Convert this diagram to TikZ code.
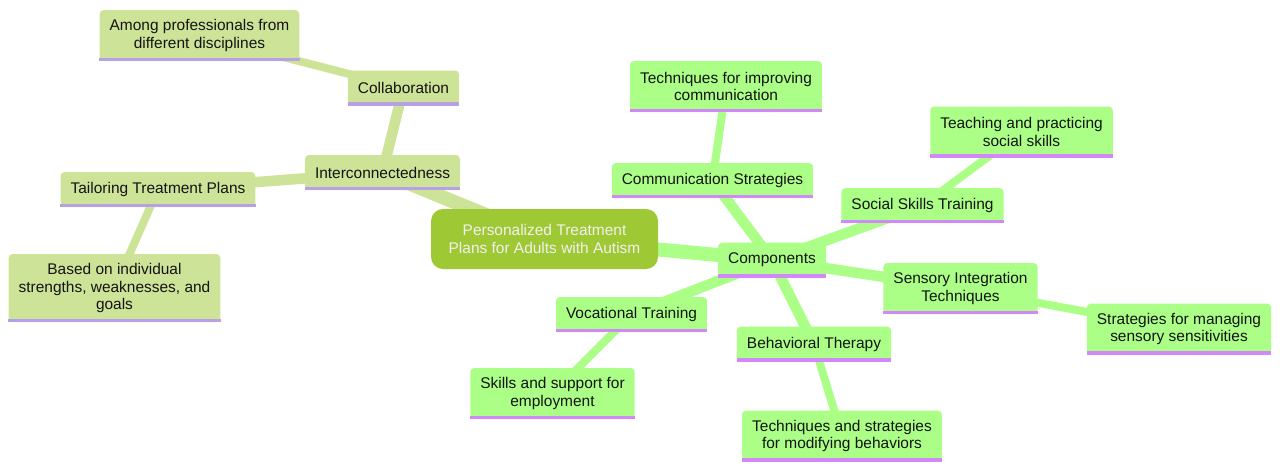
\documentclass[tikz,border=0pt]{standalone}
\usepackage{fontspec}
\setmainfont{Liberation Sans}
\usepackage{tikz}
\usetikzlibrary{backgrounds}
\definecolor{rootgreen}{RGB}{158, 201, 52}
\definecolor{leftfill}{RGB}{205, 228, 152}
\definecolor{leftline}{RGB}{183, 160, 230}
\definecolor{rightfill}{RGB}{171, 255, 135}
\definecolor{rightline}{RGB}{210, 136, 248}
\definecolor{darktext}{RGB}{20, 20, 20}

\tikzset{
  topic/.style={rounded corners=3pt, inner xsep=7.5pt, inner ysep=2pt, align=center,
    minimum height=26.25pt, text=darktext, font=\fontsize{11.6}{13}\selectfont},
  lefttopic/.style={topic, fill=leftfill},
  righttopic/.style={topic, fill=rightfill},
  twolines/.style={minimum height=38.25pt},
  threelines/.style={minimum height=51pt}
}

\begin{document}
\begin{tikzpicture}[x=0.75pt, y=-0.75pt]
  \useasboundingbox (0,0) rectangle (1280,472);
  % root
  \node[fill=rootgreen, rounded corners=9pt, minimum width=170.25pt, minimum height=45pt,
    align=center, text=white!94!black, font=\fontsize{11.6}{13}\selectfont]
    (root) at (544.5,239) {Personalized Treatment\\Plans for Adults with Autism};
  % left branch
  \node[lefttopic] (inter) at (382.5,172.5) {Interconnectedness};
  \node[lefttopic] (collab) at (403.5,88) {Collaboration};
  \node[lefttopic, twolines] (among) at (199.5,35.5) {Among professionals from\\different disciplines};
  \node[lefttopic] (tailor) at (158,189.5) {Tailoring Treatment Plans};
  \node[lefttopic, threelines] (based) at (114.5,288) {Based on individual\\strengths, weaknesses, and\\goals};
  % right branch
  \node[righttopic] (comp) at (772,260) {Components};
  \node[righttopic] (commstrat) at (712.5,180.5) {Communication Strategies};
  \node[righttopic, twolines] (commtech) at (726,86.5) {Techniques for improving\\communication};
  \node[righttopic] (social) at (922.5,205.5) {Social Skills Training};
  \node[righttopic, twolines] (socteach) at (1021.5,132) {Teaching and practicing\\social skills};
  \node[righttopic, twolines] (sensory) at (960.5,288.5) {Sensory Integration\\Techniques};
  \node[righttopic, twolines] (sensmanage) at (1179,329) {Strategies for managing\\sensory sensitivities};
  \node[righttopic] (voc) at (631.5,314.5) {Vocational Training};
  \node[righttopic, twolines] (vocskills) at (552.5,393.5) {Skills and support for\\employment};
  \node[righttopic] (behav) at (814,344) {Behavioral Therapy};
  \node[righttopic, twolines] (behavtech) at (842,436) {Techniques and strategies\\for modifying behaviors};
  % underlines
  \foreach \n in {inter,collab,among,tailor,based}
    \fill[leftline] (\n.south west) rectangle ([yshift=2.6pt]\n.south east);
  \foreach \n in {comp,commstrat,commtech,social,socteach,sensory,sensmanage,voc,vocskills,behav,behavtech}
    \fill[rightline] (\n.south west) rectangle ([yshift=2.6pt]\n.south east);
  % connectors
  \begin{pgfonlayer}{background}
    \draw[leftfill, line width=10.5pt] (root.center) -- (inter.center);
    \draw[rightfill, line width=10.5pt] (root.center) -- (comp.center);
    \foreach \a/\b in {inter/collab,inter/tailor}
      \draw[leftfill, line width=7.9pt] (\a.center) -- (\b.center);
    \foreach \a/\b in {collab/among,tailor/based}
      \draw[leftfill, line width=6pt] (\a.center) -- (\b.center);
    \foreach \b in {commstrat,social,sensory,voc,behav}
      \draw[rightfill, line width=7.9pt] (comp.center) -- (\b.center);
    \foreach \a/\b in {commstrat/commtech,social/socteach,sensory/sensmanage,voc/vocskills,behav/behavtech}
      \draw[rightfill, line width=6pt] (\a.center) -- (\b.center);
  \end{pgfonlayer}
\end{tikzpicture}
\end{document}
